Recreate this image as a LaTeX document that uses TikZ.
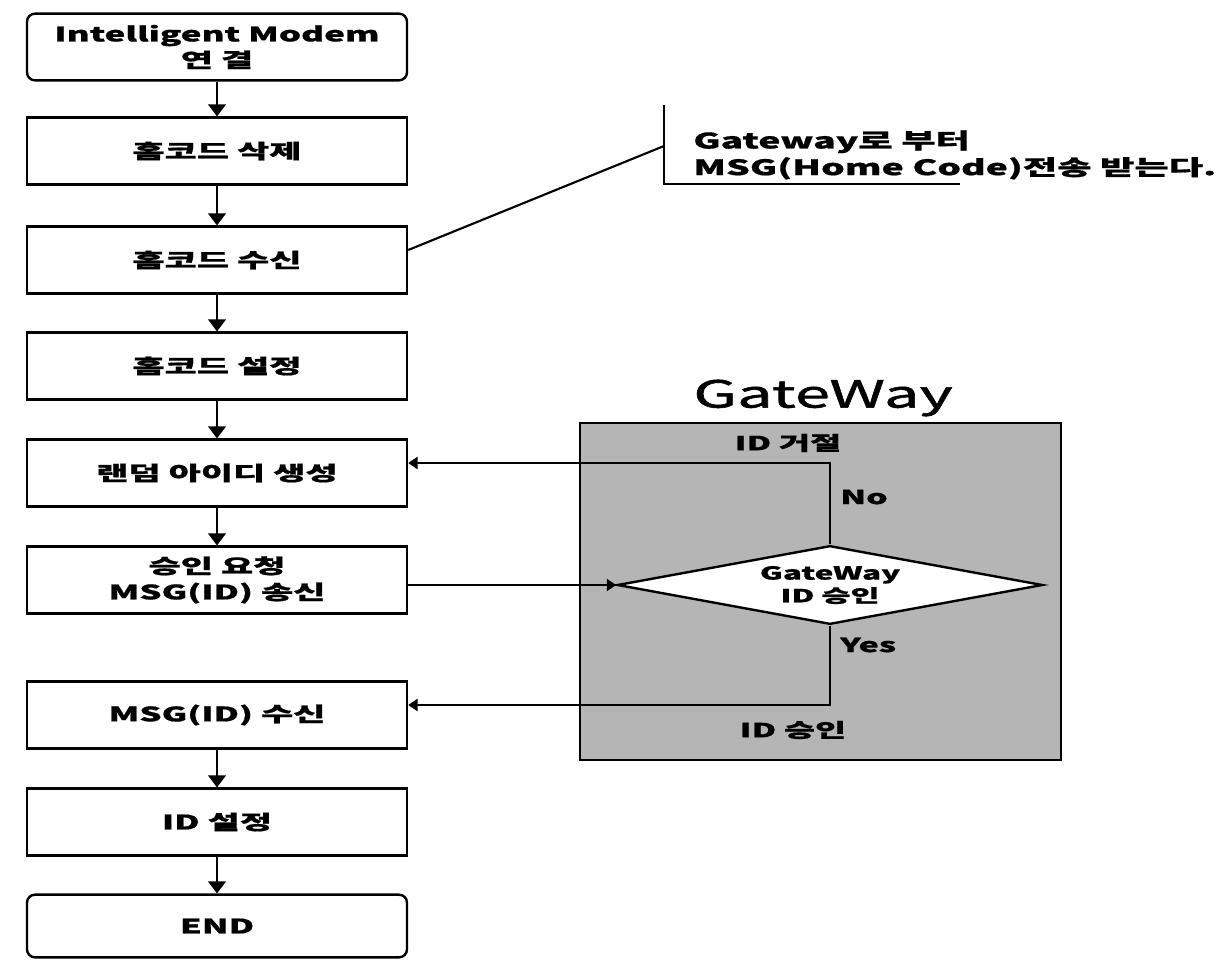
\documentclass[tikz,border=0pt]{standalone}
\usepackage{fontspec}
\setmainfont{Noto Sans CJK KR}[FakeStretch=1.75, BoldFeatures={FakeBold=0.8}]
\newfontfamily\titlefont{Noto Sans CJK KR}[FakeStretch=1.7, FakeBold=1.5]
\usetikzlibrary{shapes.geometric,arrows.meta}

\tikzset{
    stepbox/.style={draw, line width=1.8pt, minimum width=285pt, minimum height=50pt,
        align=center, font=\bfseries\fontsize{15}{19.5}\selectfont, inner sep=0pt},
    endbox/.style={stepbox, rounded corners=6pt},
    flow/.style={line width=1.8pt, -{Triangle[length=9pt,width=13pt]}},
    back/.style={line width=1.6pt, -{Triangle[length=7pt,width=9pt]}},
    tag/.style={font=\bfseries\fontsize{14.5}{17}\selectfont, inner sep=0pt}
}

\begin{document}
\begin{tikzpicture}[x=0.75pt, y=-0.75pt]
    \useasboundingbox (0,0) rectangle (1230,960);

    % Draw the gateway area
    \draw[fill=black!29, line width=0.9pt] (580,423) rectangle (1061,760);
    \node[font=\titlefont\fontsize{28}{30}\selectfont] (gwtitle) at (823,398) {GateWay};

    % Draw the steps of the modem
    \node[endbox]  (connect) at (217,47)  {Intelligent Modem\\연 결};
    \node[stepbox] (delete)  at (217,151) {홈코드 삭제};
    \node[stepbox] (recv)    at (217,260) {홈코드 수신};
    \node[stepbox] (setcode) at (217,366) {홈코드 설정};
    \node[stepbox] (randid)  at (217,473) {랜덤 아이디 생성};
    \node[stepbox] (request) at (217,580) {승인 요청\\MSG(ID) 송신};
    \node[stepbox] (getid)   at (217,715) {MSG(ID) 수신};
    \node[stepbox] (setid)   at (217,822) {ID 설정};
    \node[endbox, minimum height=47pt] (finish) at (217,926) {END};

    \draw[flow] (connect) -- (delete);
    \draw[flow] (delete) -- (recv);
    \draw[flow] (recv) -- (setcode);
    \draw[flow] (setcode) -- (randid);
    \draw[flow] (randid) -- (request);
    \draw[flow] (getid) -- (setid);
    \draw[flow] (setid) -- (finish);

    % Draw the decision of the gateway
    \node[diamond, draw, line width=1.8pt, fill=white, aspect=5.4, minimum width=319pt, minimum height=59pt,
        inner sep=0pt, align=center, font=\bfseries\fontsize{13.5}{17}\selectfont] (decide) at (830,585)
        {GateWay\\ID 승인};

    \draw[back] (request.east |- decide.west) -- (decide.west);
    \draw[back] (decide.north) |- ([yshift=7.5pt]randid.east);
    \draw[back] (decide.south) |- ([yshift=7.5pt]getid.east);

    % Label the answers
    \node[tag] (reject) at (788,443) {ID 거절};
    \node[tag, anchor=west] (no)  at (840,497) {No};
    \node[tag, anchor=west] (yes) at (840,645) {Yes};
    \node[tag] (accept) at (793,730) {ID 승인};

    % Draw the note on the home code
    \node[tag, font=\bfseries\fontsize{16}{20}\selectfont, anchor=west, align=left] (note) at (693,155)
        {Gateway로 부터\\MSG(Home Code)전송 받는다.};
    \coordinate (notetip) at (664,146);
    \draw[line width=1.6pt] ([yshift=7.5pt]recv.east) -- (notetip);
    \draw[line width=1.1pt] (664,105) -- (664,184) -- (960,184);
\end{tikzpicture}
\end{document}
